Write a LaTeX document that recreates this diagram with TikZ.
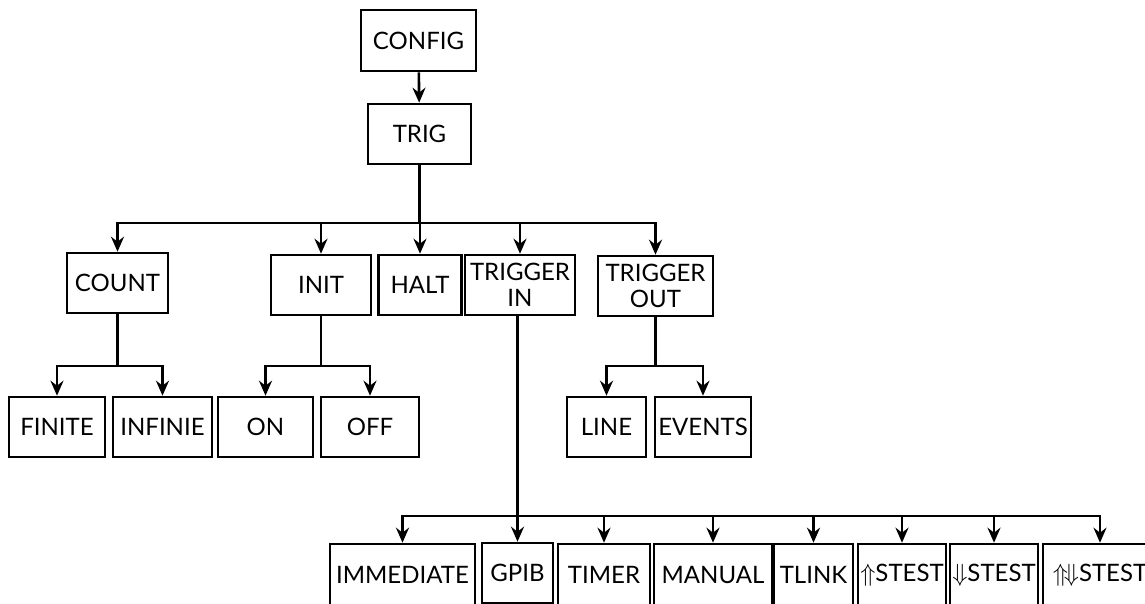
\documentclass[tikz,border=0pt]{standalone}
\usepackage{fontspec}
\setmainfont{Lato}
\usetikzlibrary{arrows.meta, positioning, calc}

\begin{document}
\begin{tikzpicture}[
    x=1pt, y=-1pt,
    every node/.style={font=\fontsize{24}{26}\selectfont},
    box/.style={draw, line width=2.6pt, minimum height=60pt, inner sep=0pt, align=center, anchor=center},
    wire/.style={line width=2.6pt},
    arr/.style={->, >={Stealth[length=15pt, width=13pt, inset=5pt]}, line width=2.6pt}
]
\useasboundingbox (0,0) rectangle (1145,604);

    % --- top: CONFIG and TRIG ---
    \node[box, minimum width=115pt, minimum height=61pt] (config) at (418.5, 40.5) {CONFIG};
    \node[box, minimum width=103pt] (trig) at (419.5, 134) {TRIG};

    % --- level 1 ---
    \def\yA{285}
    \node[box, minimum width=101pt] (count) at (117.5, 283) {COUNT};
    \node[box, minimum width=100pt] (init) at (321, \yA) {INIT};
    \node[box, minimum width=83pt] (halt) at (420, \yA) {HALT};
    \node[box, minimum width=110pt] (tin) at (520, \yA) {TRIGGER\\IN};
    \node[box, minimum width=115pt] (tout) at (655.5, 286) {TRIGGER\\OUT};

    % --- level 2 ---
    \def\yB{427}
    \foreach \name/\cx/\w/\txt in {finite/57/96/FINITE, infinie/162.5/99/INFINIE, on/265.5/95/ON,
                                   off/370/98/OFF, line/606.5/79/LINE, events/703/96/EVENTS} {
        \node[box, minimum width=\w pt] (\name) at (\cx, \yB) {\txt};
    }

    % --- level 3 (runs off the page edge) ---
    \def\yC{575}
    \node[box, minimum width=71pt] (gpib) at (517.5, 573) {GPIB};
    \foreach \name/\cx/\w/\txt in {immed/402.5/145/IMMEDIATE, timer/604/92/TIMER, manual/713/118/MANUAL,
                                   tlink/813.5/79/TLINK, stup/902/88/{$\Uparrow$STEST},
                                   stdn/994/88/{$\Downarrow$STEST}, stud/1100/114/{$\Uparrow\!\Downarrow$STEST}} {
        \node[box, minimum width=\w pt, minimum height=62pt] (\name) at (\cx, \yC) {\txt};
    }

    % bus levels
    \coordinate (busA) at (0, 223);
    \coordinate (busB) at (0, 366);
    \coordinate (busC) at (0, 516);

    \draw[arr] (config) -- (trig);
    \draw[wire] (trig.south) -- (trig.south |- busA);
    \draw[arr] (halt.north |- busA) -| (count.north);
    \draw[arr] (halt.north |- busA) -| (tout.north);
    \foreach \n in {init, halt, tin} \draw[arr] (\n.north |- busA) -- (\n.north);

    \foreach \p/\a/\b in {count/finite/infinie, init/on/off, tout/line/events} {
        \draw[wire] (\p.south) -- (\p.south |- busB);
        \draw[arr] (\p.south |- busB) -| (\a.north);
        \draw[arr] (\p.south |- busB) -| (\b.north);
    }

    \draw[arr] (gpib.north |- tin.south) -- (gpib.north);
    \draw[arr] (gpib.north |- busC) -| (immed.north);
    \draw[arr] (gpib.north |- busC) -| (stud.north);
    \foreach \n in {timer, manual, tlink, stup, stdn} \draw[arr] (\n.north |- busC) -- (\n.north);

\end{tikzpicture}
\end{document}
